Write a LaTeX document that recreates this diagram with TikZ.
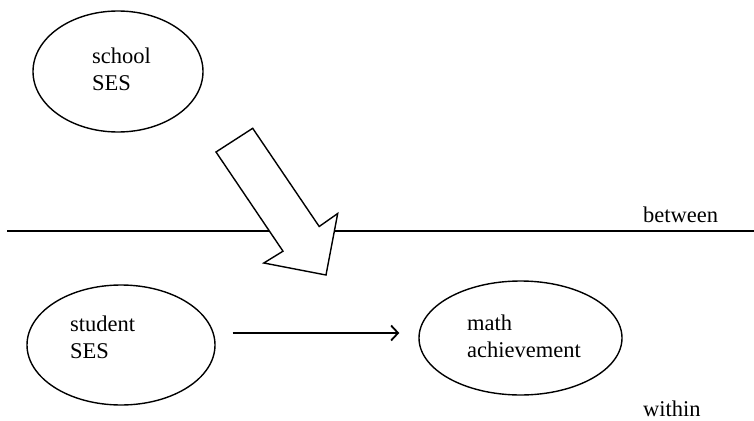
\documentclass[tikz,border=0pt]{standalone}
\usepackage{fontspec}
\setmainfont{Liberation Serif}
\usetikzlibrary{shapes.geometric,arrows.meta}
\begin{document}
\begin{tikzpicture}[x=1pt,y=-1pt,
  oval/.style={draw, ellipse, line width=1.4pt, inner sep=0pt},
  lbl/.style={inner sep=0pt, align=left, font=\fontsize{22.5}{27}\selectfont},
  conn/.style={line width=1.5pt, -{Straight Barb[length=7pt,width=15pt,line width=1.8pt]}}]
\useasboundingbox (0,0) rectangle (754,420);
% ellipses
\node[oval, minimum width=170pt, minimum height=121pt] (school) at (118,71.5) {};
\node[oval, minimum width=188pt, minimum height=120pt] (stud) at (121,345) {};
\node[oval, minimum width=203pt, minimum height=114pt] (math) at (520.5,338) {};
% texts (base = baseline of the last line)
\node[lbl, anchor=base west] (tschool) at (92,90.5) {school\\SES};
\node[lbl, anchor=base west] (tstud) at (70,358.5) {student\\SES};
\node[lbl, anchor=base west] (tmath) at (467,357) {math\\achievement};
\node[lbl, anchor=base west] (between) at (643,222) {between};
\node[lbl, anchor=base west] (within) at (643,416) {within};
% divider
\draw[line width=1.5pt] (7,231) -- (754,231);
% block arrow
\draw[line width=1.4pt, line join=miter, fill=white]
  (216,152) -- (252.7,128.3) -- (319.2,226.5) -- (337.7,213.5) -- (326,275)
  -- (263.8,263) -- (283,251.2) -- cycle;
% connector
\draw[conn] ([xshift=17pt,yshift=12pt]stud.east) -- ([xshift=-19pt,yshift=5pt]math.west);
\end{tikzpicture}
\end{document}
